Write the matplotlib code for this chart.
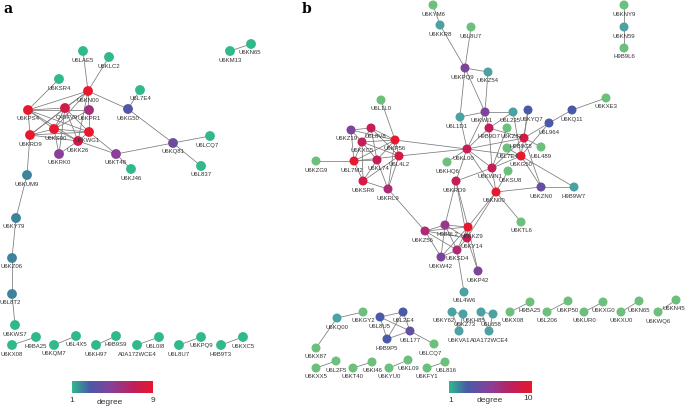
import matplotlib
matplotlib.use("Agg")
import matplotlib.pyplot as plt
import numpy as np
from matplotlib.colors import LinearSegmentedColormap

# ---------------- Panel a data ----------------
a_names = ["U6LAE5", "U6KLC2", "U6KSR4", "U6KN00", "U6L7E4", "U6KPS4", "Q45FV9", "U6KPR1",
           "U6KG50", "U6KS90", "U6KWG1", "U6KRD9", "U6KK26", "U6KRK0", "U6KT48", "U6KQ81",
           "U6LCQ7", "U6L837", "U6KJ46", "U6KUM9", "U6KY79", "U6KZ06", "U6L8T2", "U6KWS7",
           "U6KX08", "H9BA25", "U6KQM7", "U6L4X5", "U6KH97", "H9B9S9", "A0A172WCE4", "U6L0I8",
           "U6L8U7", "U6KPQ9", "H9B9T3", "U6KXC5", "U6KM13", "U6KN65"]
a_x = [83, 109, 59, 88, 140, 28, 65, 89, 128, 54, 89, 30, 78, 59, 116, 173,
       210, 201, 131, 27, 16, 12, 12, 15, 12, 36, 54, 76, 96, 116, 137, 159,
       179, 201, 221, 243, 230, 251]
a_y = [51, 57, 79, 91, 90, 110, 108, 110, 109, 129, 132, 135, 141, 154, 154, 143,
       136, 166, 169, 175, 218, 258, 294, 325, 345, 337, 345, 336, 345, 336, 345, 337,
       345, 337, 345, 337, 51, 44]
a_degree = [1, 1, 1, 9, 1, 9, 8, 6, 3, 9, 9, 9, 8, 5, 5, 4,
            1, 1, 1, 2, 2, 2, 2, 1, 1, 1, 1, 1, 1, 1, 1, 1,
            1, 1, 1, 1, 1, 1]
a_edges = [("U6LAE5", "U6KN00"), ("U6KLC2", "U6KN00"), ("U6KSR4", "U6KPS4"), ("U6KN00", "U6KG50"),
           ("U6L7E4", "U6KG50"), ("U6KG50", "U6KQ81"), ("U6KQ81", "U6LCQ7"), ("U6KQ81", "U6L837"),
           ("U6KQ81", "U6KT48"), ("U6KT48", "U6KJ46"), ("U6KT48", "U6KWG1"), ("U6KT48", "U6KK26"),
           ("U6KRD9", "U6KUM9"), ("U6KUM9", "U6KY79"), ("U6KY79", "U6KZ06"), ("U6KZ06", "U6L8T2"),
           ("U6L8T2", "U6KWS7"),
           ("U6KN00", "U6KPS4"), ("U6KN00", "Q45FV9"), ("U6KN00", "U6KPR1"), ("U6KN00", "U6KS90"),
           ("U6KN00", "U6KRD9"), ("U6KN00", "U6KK26"), ("U6KPS4", "Q45FV9"), ("U6KPS4", "U6KRD9"),
           ("U6KPS4", "U6KS90"), ("U6KPS4", "U6KWG1"), ("U6KPS4", "U6KK26"), ("U6KPS4", "U6KPR1"),
           ("Q45FV9", "U6KS90"), ("Q45FV9", "U6KRD9"), ("Q45FV9", "U6KWG1"), ("Q45FV9", "U6KK26"),
           ("Q45FV9", "U6KRK0"), ("U6KPR1", "U6KWG1"), ("U6KPR1", "U6KS90"), ("U6KS90", "U6KRD9"),
           ("U6KS90", "U6KWG1"), ("U6KS90", "U6KK26"), ("U6KS90", "U6KRK0"), ("U6KRD9", "U6KWG1"),
           ("U6KRD9", "U6KK26"), ("U6KWG1", "U6KK26"), ("U6KK26", "U6KRK0"),
           ("U6KX08", "H9BA25"), ("U6KQM7", "U6L4X5"), ("U6KH97", "H9B9S9"), ("A0A172WCE4", "U6L0I8"),
           ("U6L8U7", "U6KPQ9"), ("H9B9T3", "U6KXC5"), ("U6KM13", "U6KN65")]
a_label_shift = {"U6KS90": (2, 9), "U6KWG1": (-2, 9), "U6LCQ7": (-3, 10), "U6L0I8": (-4, 10),
                 "U6KY79": (-2, 8), "U6L8T2": (-2, 9), "U6KN65": (-1, 8), "Q45FV9": (2, 9)}

# ---------------- Panel b data ----------------
b_names = ["U6KYM6", "U6KKR8", "U6L8U7", "U6KPQ9", "U6KZ54", "U6L1L0", "U6L1D1", "U6KWI1",
           "U6L235", "U6KYQ7", "U6L964", "U6KQ11", "U6KXE3", "H9B9D7", "U6KZ82", "H9B9C8",
           "U6L7E4", "U6L489", "U6KG50", "U6KL00", "U6KWN1", "U6KSU8", "U6KN00", "U6KZN0",
           "H9B9W7", "U6KTL6", "U6KNY9", "U6KN59", "H9B9L6", "U6KZ19", "U6L8V8", "U6KXC5",
           "U6KP56", "U6L7M2", "U6KL74", "U6L4L2", "U6KZG9", "U6KSR6", "U6KRL9", "U6KHQ6",
           "U6KRD9", "U6KZ56", "H9B9L2", "U6KKZ9", "U6KY14", "U6KSD4", "U6KW42", "U6KP42",
           "U6L4W6", "U6KY62", "U6KZ73", "U6KVA1", "U6KH85", "U6L658", "A0A172WCE4",
           "U6KX08", "H9BA25", "U6L206", "U6KP50", "U6KUR0", "U6KXG0", "U6KXU0", "U6KN65",
           "U6KWQ6", "U6KN45", "U6KQ00", "U6KGY2", "U6KX87", "U6L8U5", "U6L2E4", "U6L177",
           "H9B9P5", "U6LCQ7", "U6KXX5", "U6L2F5", "U6KT40", "U6KI46", "U6KYU0", "U6KL09",
           "U6KFY1", "U6L816"]
b_x = [433, 440, 471, 465, 488, 381, 460, 485,
       513, 528, 549, 572, 606, 489, 507, 524,
       507, 541, 521, 467, 492, 508, 496, 541,
       574, 521, 624, 624, 624, 351, 371, 362,
       395, 354, 377, 399, 316, 363, 388, 447,
       456, 425, 445, 468, 467, 457, 441, 478,
       464, 452, 463, 459, 481, 493, 489,
       510, 530, 547, 568, 584, 603, 621, 639,
       658, 676, 337, 363, 316, 380, 403, 410,
       387, 434, 316, 336, 353, 372, 389, 408,
       427, 445]
b_y = [5, 25, 27, 68, 72, 100, 117, 112,
       112, 110, 123, 110, 98, 128, 128, 138,
       148, 147, 156, 149, 168, 171, 192, 187,
       187, 222, 5, 27, 48, 130, 128, 142,
       140, 161, 160, 156, 161, 181, 189, 162,
       181, 231, 225, 227, 238, 250, 257, 271,
       292, 312, 314, 331, 312, 314, 331,
       312, 302, 312, 301, 312, 302, 312, 301,
       312, 300, 318, 312, 348, 317, 312, 331,
       339, 344, 368, 361, 368, 362, 368, 360,
       368, 362]
b_degree = [1, 2, 1, 5, 2, 1, 2, 5,
            2, 3, 3, 3, 1, 8, 1, 9,
            1, 1, 10, 8, 8, 1, 10, 4,
            2, 1, 1, 2, 1, 5, 8, 8,
            10, 10, 8, 9, 1, 9, 7, 1,
            8, 7, 6, 10, 8, 7, 5, 5,
            2, 2, 2, 2, 2, 2, 2,
            1, 1, 1, 1, 1, 1, 1, 1,
            1, 1, 2, 1, 1, 3, 3, 4,
            3, 1, 1, 1, 1, 1, 1, 1,
            1, 1]
b_edges = [("U6KYM6", "U6KKR8"), ("U6KKR8", "U6KPQ9"), ("U6L8U7", "U6KPQ9"), ("U6KPQ9", "U6KZ54"),
           ("U6KPQ9", "U6L1D1"), ("U6KPQ9", "U6KWI1"), ("U6KZ54", "U6KWI1"), ("U6L1D1", "U6KL00"),
           ("U6L1D1", "U6KWI1"), ("U6KWI1", "U6L235"), ("U6KWI1", "H9B9D7"), ("U6KWI1", "U6KL00"),
           ("U6L1L0", "U6KP56"), ("U6KP56", "U6KL00"), ("U6L4L2", "U6KL00"), ("U6KZG9", "U6L7M2"),
           ("U6KZ19", "U6L8V8"), ("U6KZ19", "U6KXC5"), ("U6KZ19", "U6L7M2"), ("U6KZ19", "U6KP56"),
           ("U6L8V8", "U6KXC5"), ("U6L8V8", "U6KP56"), ("U6L8V8", "U6L4L2"), ("U6L8V8", "U6KL74"),
           ("U6KXC5", "U6KP56"), ("U6KXC5", "U6L7M2"), ("U6KXC5", "U6KL74"), ("U6KXC5", "U6L4L2"),
           ("U6KP56", "U6L7M2"), ("U6KP56", "U6KL74"), ("U6KP56", "U6L4L2"), ("U6KP56", "U6KRL9"),
           ("U6L7M2", "U6KL74"), ("U6L7M2", "U6L4L2"), ("U6L7M2", "U6KSR6"), ("U6KL74", "U6KSR6"),
           ("U6KL74", "U6KRL9"), ("U6L4L2", "U6KSR6"), ("U6L4L2", "U6KRL9"), ("U6KSR6", "U6KRL9"),
           ("U6KXC5", "U6KSR6"), ("U6KRL9", "U6KZ56"),
           ("U6KZ56", "H9B9L2"), ("U6KZ56", "U6KKZ9"), ("U6KZ56", "U6KY14"), ("U6KZ56", "U6KW42"),
           ("U6KZ56", "U6KSD4"), ("H9B9L2", "U6KKZ9"), ("H9B9L2", "U6KY14"), ("H9B9L2", "U6KW42"),
           ("H9B9L2", "U6KSD4"), ("U6KKZ9", "U6KY14"), ("U6KKZ9", "U6KSD4"), ("U6KKZ9", "U6KP42"),
           ("U6KY14", "U6KSD4"), ("U6KY14", "U6KP42"), ("U6KSD4", "U6KW42"), ("U6KW42", "U6KKZ9"),
           ("U6KSD4", "U6L4W6"),
           ("U6KRD9", "H9B9L2"), ("U6KRD9", "U6KKZ9"), ("U6KRD9", "U6KY14"), ("U6KRD9", "U6KL00"),
           ("U6KHQ6", "U6KL00"), ("U6KRD9", "U6KWN1"), ("U6KN00", "U6KKZ9"), ("U6KN00", "U6KY14"),
           ("U6KQ11", "U6KXE3"), ("U6KQ11", "U6L964"), ("U6L964", "H9B9C8"), ("U6L964", "U6KG50"),
           ("U6KYQ7", "H9B9C8"), ("U6KYQ7", "U6KG50"), ("U6L235", "H9B9D7"), ("U6L235", "U6KG50"),
           ("H9B9D7", "U6KL00"), ("H9B9D7", "H9B9C8"), ("H9B9D7", "U6KWN1"), ("U6KL00", "H9B9C8"),
           ("U6KL00", "U6KG50"), ("U6KL00", "U6KWN1"), ("U6KL00", "U6KN00"), ("U6KZ82", "U6KWN1"),
           ("U6L7E4", "U6KG50"), ("U6L489", "H9B9C8"), ("U6KG50", "U6KWN1"), ("U6KG50", "U6KZN0"),
           ("H9B9C8", "U6KZN0"), ("U6KG50", "H9B9W7"), ("U6KWN1", "U6KN00"), ("U6KSU8", "U6KN00"),
           ("U6KN00", "U6KZN0"), ("U6KN00", "U6KTL6"), ("H9B9C8", "U6KWN1"), ("U6KZN0", "H9B9W7"),
           ("U6KNY9", "U6KN59"), ("U6KN59", "H9B9L6"),
           ("U6KY62", "U6KZ73"), ("U6KY62", "U6KVA1"), ("U6KZ73", "U6KVA1"),
           ("U6KH85", "U6L658"), ("U6KH85", "A0A172WCE4"), ("U6L658", "A0A172WCE4"),
           ("U6KX08", "H9BA25"), ("U6L206", "U6KP50"), ("U6KUR0", "U6KXG0"), ("U6KXU0", "U6KN65"),
           ("U6KWQ6", "U6KN45"), ("U6KQ00", "U6KGY2"), ("U6KQ00", "U6KX87"),
           ("U6L8U5", "U6L2E4"), ("U6L8U5", "U6L177"), ("U6L8U5", "H9B9P5"), ("U6L2E4", "U6L177"),
           ("U6L2E4", "H9B9P5"), ("H9B9P5", "U6L177"), ("U6L177", "U6LCQ7"),
           ("U6KXX5", "U6L2F5"), ("U6KT40", "U6KI46"), ("U6KYU0", "U6KL09"), ("U6KFY1", "U6L816")]
b_label_shift = {"U6KZ19": (-4, 9), "U6L8V8": (4, 9), "U6KKZ9": (4, 9), "U6KY14": (5, 9),
                 "H9B9L2": (2, 9), "U6KZ82": (5, 9), "H9B9C8": (-3, 9), "U6KYQ7": (3, 9),
                 "U6L235": (-3, 8), "U6KX08": (3, 9), "U6KY62": (-8, 8), "U6KH85": (-7, 8),
                 "U6L658": (-2, 11), "U6KPQ9": (-3, 9), "U6L1D1": (-3, 9), "U6KWI1": (-3, 9),
                 "U6KZ73": (2, 10), "U6KWN1": (-2, 9), "U6KSU8": (2, 9), "U6KN00": (-2, 9),
                 "U6KL00": (-4, 9), "U6L7M2": (-2, 9), "U6KL74": (1, 9), "U6LCQ7": (-4, 9),
                 "U6KI46": (0, 9), "U6L816": (1, 9), "U6KRD9": (-2, 9), "U6KZ56": (-3, 9),
                 "U6KN45": (-2, 9)}

# ---------------- drawing ----------------
cmap = LinearSegmentedColormap.from_list(
    "deg", [(0.0, "#2fb98c"), (0.22, "#4a5aa8"), (0.5, "#8a3f98"), (0.78, "#c41d58"), (1.0, "#e8182e")])
cmap_b = LinearSegmentedColormap.from_list(
    "degb", [(0.0, "#6cc07c"), (0.08, "#4db6a0"), (0.22, "#4a5aa8"), (0.5, "#8a3f98"), (0.78, "#c41d58"), (1.0, "#e8182e")])

plt.rcParams["font.family"] = ["Liberation Sans", "DejaVu Sans"]
fig = plt.figure(figsize=(6.85, 4.07), dpi=100)
ax = fig.add_axes([0, 0, 1, 1])
ax.set_xlim(0, 685)
ax.set_ylim(407, 0)
ax.axis("off")


def draw_panel(names, xs, ys, deg, edges, shifts, cm, dmax, size):
    pos = {n: (x, y) for n, x, y in zip(names, xs, ys)}
    for u, v in edges:
        ax.plot([pos[u][0], pos[v][0]], [pos[u][1], pos[v][1]], color="#7a7a7a", lw=0.55, zorder=1)
    cols = [cm((d - 1) / (dmax - 1)) for d in deg]
    ax.scatter(xs, ys, s=size, c=cols, linewidths=0, zorder=3)
    for n, x, y in zip(names, xs, ys):
        dx, dy = shifts.get(n, (0, 9))
        ax.text(x + dx, y + dy, n, fontsize=4.3, color="#333333", ha="center", va="center", zorder=4)


draw_panel(a_names, a_x, a_y, a_degree, a_edges, a_label_shift, cmap, 9, 50)
draw_panel(b_names, b_x, b_y, b_degree, b_edges, b_label_shift, cmap_b, 10, 42)

# panel letters
ax.text(3, 9, "a", fontsize=10, fontweight="bold", family="DejaVu Serif", ha="left", va="center")
ax.text(302, 9, "b", fontsize=10, fontweight="bold", family="DejaVu Serif", ha="left", va="center")

# colour bars
grad = np.linspace(0, 1, 256).reshape(1, -1)
ax.imshow(grad, extent=[72, 153, 393, 381], aspect="auto", cmap=cmap, zorder=2)
ax.text(72, 401, "1", fontsize=6, color="#333333", ha="center", va="center")
ax.text(110, 402, "degree", fontsize=6, color="#333333", ha="center", va="center")
ax.text(153, 400, "9", fontsize=6, color="#333333", ha="center", va="center")

ax.imshow(grad, extent=[449, 532, 393, 381], aspect="auto", cmap=cmap, zorder=2)
ax.text(451, 401, "1", fontsize=6, color="#333333", ha="center", va="center")
ax.text(490, 401, "degree", fontsize=6, color="#333333", ha="center", va="center")
ax.text(528, 399, "10", fontsize=6, color="#333333", ha="center", va="center")
ax.set_xlim(0, 685)
ax.set_ylim(407, 0)

fig.savefig("out.png", dpi=100)
